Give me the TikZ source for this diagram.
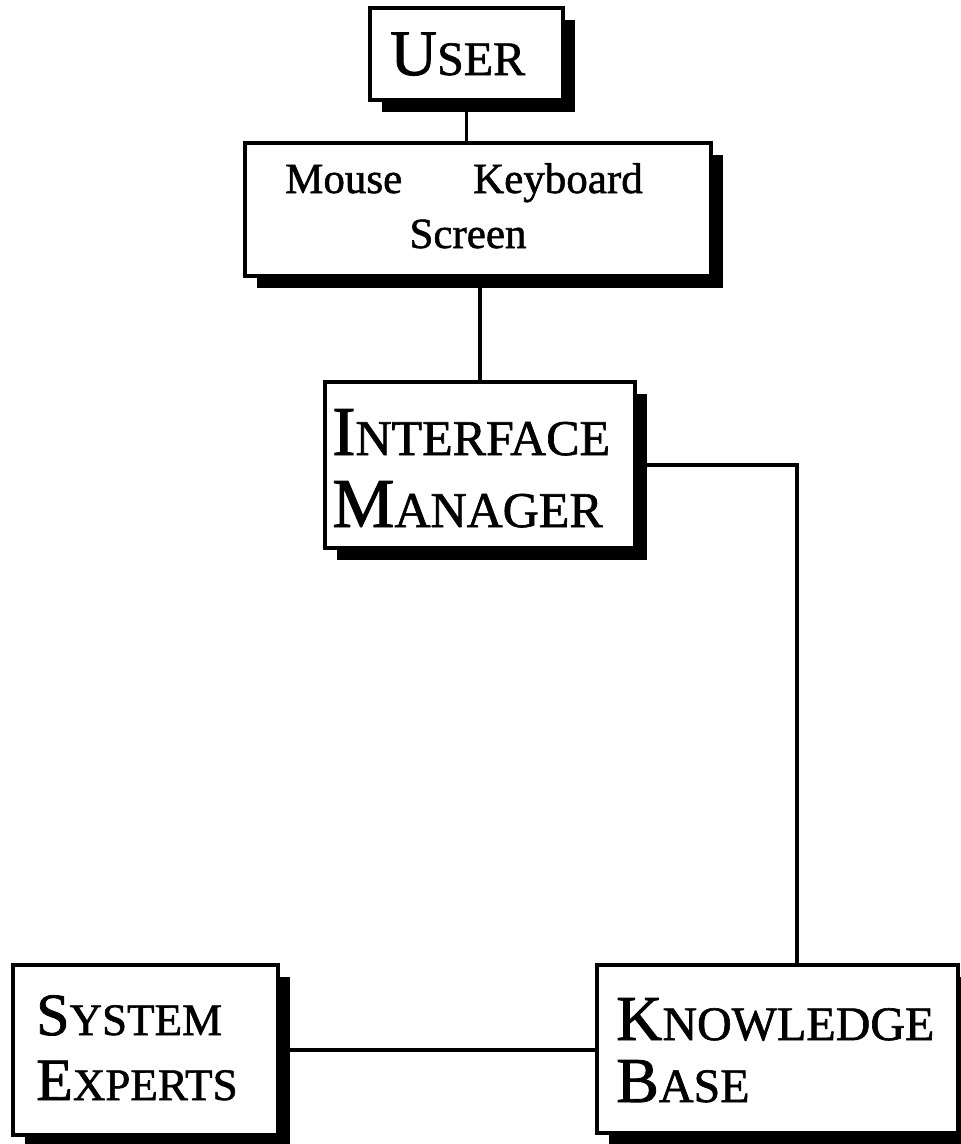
\documentclass[tikz,border=0pt]{standalone}
\usepackage{fontspec}
\setmainfont{Liberation Serif}[FakeBold=1.3]
\usetikzlibrary{shadows}
% a word set in caps and small caps: big initial, smaller rest
\newcommand\SCword[4]{{\fontsize{#1}{#1}\selectfont #3}{\fontsize{#2}{#2}\selectfont #4}}
\tikzset{
  box/.style={draw, line width=3.2pt, fill=white, inner sep=0pt,
    drop shadow={shadow xshift=12pt, shadow yshift=-12pt, opacity=1, fill=black}},
  wire/.style={line width=3.4pt},
  lbl/.style={inner sep=0pt, anchor=base west},
  small/.style={font=\fontsize{43pt}{43pt}\selectfont}
}
\begin{document}
\begin{tikzpicture}[x=1pt, y=-1pt]
\useasboundingbox (0,0) rectangle (961,1144);

% boxes
\node[box, minimum width=193pt, minimum height=92pt]  (user) at (466.5,54) {};
\node[box, minimum width=466pt, minimum height=133pt] (io)   at (478,209.5) {};
\node[box, minimum width=310pt, minimum height=166pt] (im)   at (480,465) {};
\node[box, minimum width=265pt, minimum height=170pt] (se)   at (145.5,1050) {};
\node[box, minimum width=361pt, minimum height=168pt] (kb)   at (777.5,1049) {};

% connectors
\draw[wire] (user.south) -- (user.south |- io.north);
\draw[wire] (im.north) -- (im.north |- io.south);
\coordinate (kbtop) at ([xshift=19.5pt]kb.north);
\draw[wire] (im.east) -| (kbtop);
\draw[wire] (se.east) -- (se.east -| kb.west);

% labels
\node[lbl] (tuser) at (390,75) {\SCword{65pt}{48pt}{U}{SER}};

\node[lbl, small] (tmouse) at (285,193) {Mouse};
\node[lbl, small] (tkey)   at (473,193) {Keyboard};
\node[small, inner sep=0pt, anchor=base] (tscreen) at (468,248) {Screen};

\node[lbl] (tim1) at (332,455) {\SCword{70pt}{50pt}{I}{NTERFACE}};
\node[lbl] (tim2) at (332,527) {\SCword{70pt}{50pt}{M}{ANAGER}};

\node[lbl] (tse1) at (36,1035) {\SCword{60pt}{45pt}{S}{YSTEM}};
\node[lbl] (tse2) at (36,1100) {\SCword{60pt}{45pt}{E}{XPERTS}};

\node[lbl] (tkb1) at (616,1040) {\SCword{64pt}{48pt}{K}{NOWLEDGE}};
\node[lbl] (tkb2) at (616,1102) {\SCword{64pt}{48pt}{B}{ASE}};
\end{tikzpicture}
\end{document}
